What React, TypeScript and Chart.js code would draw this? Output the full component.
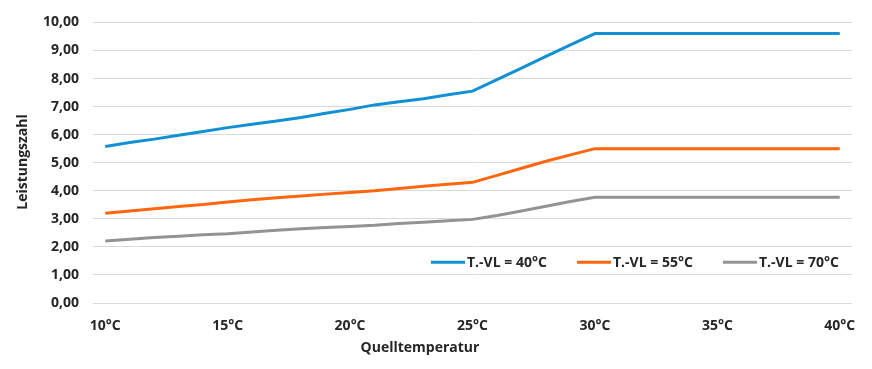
import React, { useEffect, useRef } from "react";
import { Chart, registerables } from "chart.js";

Chart.register(...registerables);

const temperatures = [
  "10°C", "11°C", "12°C", "13°C", "14°C", "15°C", "16°C", "17°C", "18°C", "19°C",
  "20°C", "21°C", "22°C", "23°C", "24°C", "25°C", "26°C", "27°C", "28°C", "29°C",
  "30°C", "31°C", "32°C", "33°C", "34°C", "35°C", "36°C", "37°C", "38°C", "39°C", "40°C",
];
const shownTickLabels = ["10°C", "15°C", "20°C", "25°C", "30°C", "35°C", "40°C"];

const vl40 = [
  5.58, 5.72, 5.84, 5.98, 6.11, 6.25, 6.37, 6.49, 6.61, 6.76,
  6.9, 7.06, 7.17, 7.28, 7.42, 7.55, 7.96, 8.37, 8.79, 9.2,
  9.6, 9.6, 9.6, 9.6, 9.6, 9.6, 9.6, 9.6, 9.6, 9.6, 9.6,
];
const vl55 = [
  3.2, 3.28, 3.36, 3.44, 3.51, 3.6, 3.68, 3.75, 3.81, 3.88,
  3.94, 4.0, 4.08, 4.16, 4.23, 4.3, 4.55, 4.8, 5.05, 5.28,
  5.5, 5.5, 5.5, 5.5, 5.5, 5.5, 5.5, 5.5, 5.5, 5.5, 5.5,
];
const vl70 = [
  2.21, 2.27, 2.33, 2.38, 2.43, 2.47, 2.53, 2.59, 2.65, 2.69,
  2.73, 2.77, 2.83, 2.88, 2.93, 2.98, 3.12, 3.28, 3.45, 3.62,
  3.77, 3.77, 3.77, 3.77, 3.77, 3.77, 3.77, 3.77, 3.77, 3.77, 3.77,
];
const seriesNames = ["T.-VL = 40°C", "T.-VL = 55°C", "T.-VL = 70°C"];
const seriesColors = ["#1190d4", "#ff660f", "#939393"];

const FONT = "'Open Sans', 'DejaVu Sans', sans-serif";
const TEXT = "#262626";

const overlayPlugin = {
  id: "overlay",
  afterDraw(chart: any) {
    const ctx = chart.ctx;
    ctx.save();
    ctx.fillStyle = TEXT;
    ctx.font = `bold 14px ${FONT}`;
    // y axis title
    ctx.save();
    ctx.translate(23, 162);
    ctx.rotate(-Math.PI / 2);
    ctx.textAlign = "center";
    ctx.textBaseline = "middle";
    ctx.fillText("Leistungszahl", 0, 0);
    ctx.restore();
    // x axis title
    ctx.textAlign = "center";
    ctx.textBaseline = "middle";
    ctx.fillText("Quelltemperatur", 420, 348);
    // legend
    const y = chart.scales.y.getPixelForValue(1.45);
    const starts = [431, 577, 723];
    ctx.textAlign = "left";
    seriesNames.forEach((name, i) => {
      const x0 = starts[i];
      ctx.strokeStyle = seriesColors[i];
      ctx.lineWidth = 3;
      ctx.beginPath();
      ctx.moveTo(x0, y);
      ctx.lineTo(x0 + 34, y);
      ctx.stroke();
      ctx.fillStyle = TEXT;
      ctx.fillText(name, x0 + 36, y + 1);
    });
    ctx.restore();
  },
};

export default function App() {
  const ref = useRef<HTMLCanvasElement>(null);
  useEffect(() => {
    document.body.style.margin = "0";
    const chart = new Chart(ref.current as HTMLCanvasElement, {
      type: "line",
      data: {
        labels: temperatures,
        datasets: [vl40, vl55, vl70].map((d, i) => ({
          label: seriesNames[i],
          data: d,
          borderColor: seriesColors[i],
          backgroundColor: seriesColors[i],
          borderWidth: 3,
          pointRadius: 0,
          tension: 0,
          fill: false,
        })),
      },
      options: {
        animation: false,
        responsive: false,
        maintainAspectRatio: false,
        layout: { padding: { left: 0, top: 21, right: 20, bottom: 0 } },
        plugins: { legend: { display: false }, tooltip: { enabled: false } },
        scales: {
          x: {
            offset: true,
            grid: { display: false, drawTicks: false },
            border: { display: false },
            ticks: {
              autoSkip: false,
              maxRotation: 0,
              padding: 15,
              color: TEXT,
              font: { family: FONT, size: 14, weight: "bold" },
              callback: function (this: any, value: any) {
                const l = temperatures[value as number];
                return shownTickLabels.includes(l) ? l : "";
              },
            },
            afterFit: (s: any) => {
              s.height = 66;
            },
          },
          y: {
            min: 0,
            max: 10,
            grid: { color: "#d9d9d9", lineWidth: 1, drawTicks: false },
            border: { display: false },
            ticks: {
              stepSize: 1,
              padding: 14,
              color: TEXT,
              font: { family: FONT, size: 14, weight: "bold" },
              callback: (v: any) => Number(v).toFixed(2).replace(".", ","),
            },
            afterFit: (s: any) => {
              s.width = 93;
            },
          },
        },
      },
      plugins: [overlayPlugin],
    });
    return () => chart.destroy();
  }, []);
  return (
    <div style={{ width: 872, height: 369 }}>
      <canvas ref={ref} width={872} height={369} style={{ display: "block" }} />
    </div>
  );
}
